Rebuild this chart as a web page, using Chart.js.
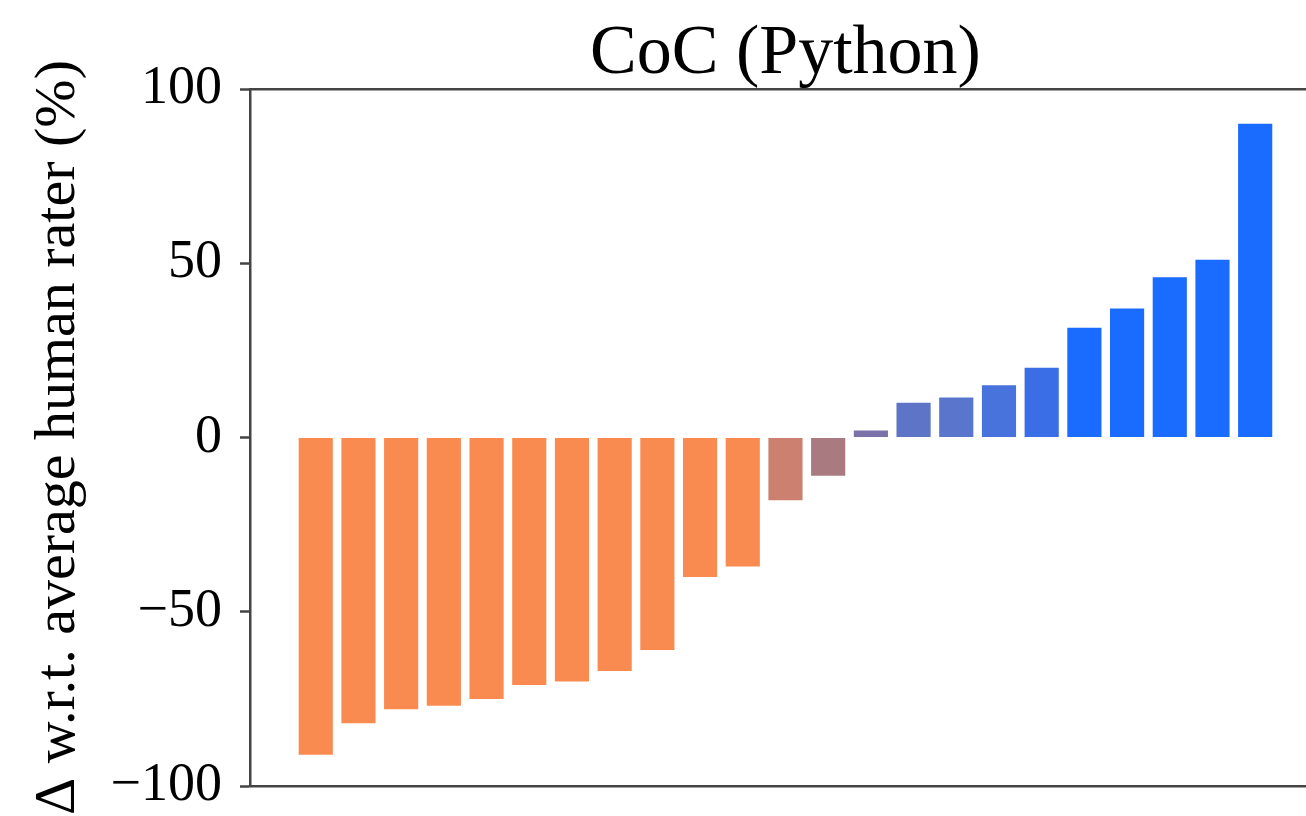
<!DOCTYPE html>
<html>
<head>
<meta charset="utf-8">
<title>CoC (Python)</title>
<script src="https://cdn.jsdelivr.net/npm/chart.js@4/dist/chart.umd.min.js"></script>
<style>
  html, body { margin: 0; padding: 0; background: #fff; }
  #wrap { width: 1306px; height: 816px; position: relative; }
</style>
</head>
<body>
<div id="wrap"><canvas id="chart"></canvas></div>
<script>
// values, sorted low to high
const deltas = [-91, -82, -78, -77, -75, -71, -70, -67, -61, -40, -37,
                -18, -11, 2, 10, 11.5, 15, 20, 31.5, 37, 46, 51, 90];
const barColors = ['#F98A50', '#F98A50', '#F98A50', '#F98A50', '#F98A50', '#F98A50',
                   '#F98A50', '#F98A50', '#F98A50', '#F98A50', '#F98A50',
                   '#CB8070', '#A97A80', '#7B72AA', '#5E74C6', '#5A76CC', '#4873DC',
                   '#3A6EE6', '#1A6BFF', '#1A6BFF', '#1A6BFF', '#1A6BFF', '#1A6BFF'];
const yTicks = [-100, -50, 0, 50, 100];
const chartTitle = 'CoC (Python)';
const yLabel = '\u0394 w.r.t. average human rater (%)';

const serif = '"Liberation Serif", "DejaVu Serif", serif';
const spine = '#444';

const points = deltas.map((v, i) => ({ x: i, y: v }));

// title centred over the axes, like matplotlib does
const titlePlugin = {
  id: 'axesTitle',
  afterDraw(chart) {
    const { ctx } = chart;
    const xs = chart.scales.x;
    const mid = (xs.getPixelForValue(-1.54) + xs.getPixelForValue(23.54)) / 2;
    ctx.save();
    ctx.font = '70px ' + serif;
    ctx.fillStyle = '#000';
    ctx.textAlign = 'center';
    ctx.textBaseline = 'alphabetic';
    ctx.fillText(chartTitle, mid, 73);
    ctx.restore();
  }
};

new Chart(document.getElementById('chart'), {
  type: 'bar',
  data: {
    datasets: [{
      data: points,
      backgroundColor: barColors,
      borderWidth: 0,
      barPercentage: 0.8,
      categoryPercentage: 1.0
    }]
  },
  options: {
    responsive: true,
    maintainAspectRatio: false,
    animation: false,
    layout: { padding: { top: 89, bottom: 30, left: 0, right: 0 } },
    plugins: {
      legend: { display: false },
      tooltip: { enabled: false }
    },
    scales: {
      x: {
        type: 'linear',
        offset: false,
        min: -1.54,
        max: 23.19,
        ticks: { display: false },
        grid: { display: false, drawTicks: false, offset: false },
        border: { display: true, color: spine, width: 2.5 },
        afterFit(s) { s.height = 0; }
      },
      xTop: {
        type: 'linear',
        position: 'top',
        offset: false,
        min: 0,
        max: 1,
        ticks: { display: false },
        grid: { display: false, drawTicks: false },
        border: { display: true, color: spine, width: 2.5 },
        afterFit(s) { s.height = 0; }
      },
      y: {
        min: -100,
        max: 100,
        afterBuildTicks(s) { s.ticks = yTicks.map(v => ({ value: v })); },
        ticks: {
          color: '#000',
          padding: 18,
          // small lineHeight so the label overhang doesn't push the plot up
          font: { family: serif, size: 54, lineHeight: 0.4 },
          callback: v => String(v).replace('-', '\u2212')
        },
        grid: {
          drawOnChartArea: false,
          drawTicks: true,
          tickLength: 10,
          tickColor: spine,
          tickWidth: 2.5
        },
        border: { display: true, color: spine, width: 2.5 },
        title: {
          display: true,
          text: yLabel,
          color: '#000',
          font: { family: serif, size: 58 },
          padding: { top: 24, bottom: 0 }
        },
        afterFit(s) { s.width = 250; }
      }
    }
  },
  plugins: [titlePlugin]
});
</script>
</body>
</html>
